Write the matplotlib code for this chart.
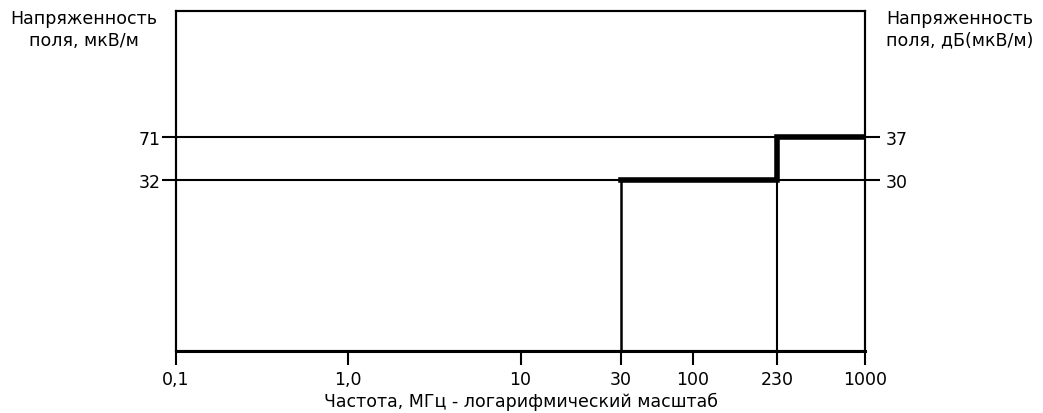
import matplotlib
matplotlib.use("Agg")
import matplotlib.pyplot as plt
import numpy as np

plt.rcParams['font.family'] = ['DejaVu Sans']

# частоты (МГц) и подписи оси X
freq_ticks = [0.1, 1, 10, 30, 100, 230, 1000]
freq_labels = ['0,1', '1,0', '10', '30', '100', '230', '1000']

# уровни напряженности поля
level_uv = [71, 32]        # мкВ/м
level_db = ['37', '30']    # дБ(мкВ/м)

# норма (ступенька)
limit_freq = [30, 230, 230, 1000]
limit_uv = [32, 32, 71, 71]

# схематичная логарифмическая шкала: 30 и 230 на рисунке стоят не строго по логарифму
anchor_log = np.log10(freq_ticks)
anchor_pos = np.array([0, 1, 2, 2.584, 3, 3.491, 4])


def fwd(x):
    lx = np.log10(np.clip(np.asarray(x, dtype=float), 1e-9, None))
    p = np.interp(lx, anchor_log, anchor_pos)
    # за пределами опорных точек — обычный логарифм
    p = np.where(lx < anchor_log[0], lx + 1, p)
    p = np.where(lx > anchor_log[-1], lx + 1, p)
    return p


def inv(p):
    p = np.asarray(p, dtype=float)
    lx = np.interp(p, anchor_pos, anchor_log)
    lx = np.where(p < anchor_pos[0], p - 1, lx)
    lx = np.where(p > anchor_pos[-1], p - 1, lx)
    return 10 ** lx


FS = 12.5

fig = plt.figure(figsize=(10.43, 4.14), dpi=100)
ax = fig.add_axes([176 / 1043, (414 - 352) / 414, (865 - 176) / 1043, 340 / 414])

ax.set_xscale('function', functions=(fwd, inv))
ax.set_yscale('log')
ax.set_xlim(0.1, 1000)
ax.set_ylim(1.34, 733)

y0 = ax.get_ylim()[0]
for v in level_uv:
    ax.axhline(v, color='black', lw=1.5)
ax.plot([30, 30], [y0, limit_uv[0]], color='black', lw=1.8)
ax.plot([230, 230], [y0, limit_uv[1]], color='black', lw=1.5)
ax.plot(limit_freq, limit_uv, color='black', lw=4, solid_joinstyle='miter')

ax.set_xticks(freq_ticks, freq_labels)
ax.xaxis.set_minor_locator(matplotlib.ticker.NullLocator())
ax.set_yticks(level_uv, [str(v) for v in level_uv])
ax.yaxis.set_minor_locator(matplotlib.ticker.NullLocator())
ax.tick_params(axis='both', direction='out', length=10, width=1.5,
               labelsize=FS, pad=1)
ax.tick_params(axis='x', pad=4)

ax2 = ax.twinx()
ax2.set_yscale('log')
ax2.set_ylim(ax.get_ylim())
ax2.set_yticks(level_uv, level_db)
ax2.yaxis.set_minor_locator(matplotlib.ticker.NullLocator())
ax2.tick_params(axis='y', direction='out', length=11, width=1.5,
                labelsize=FS, pad=4)

for a in (ax, ax2):
    for s in a.spines.values():
        s.set_linewidth(1.5)
ax.spines['bottom'].set_linewidth(2.2)

ax.set_xlabel('Частота, МГц - логарифмический масштаб', fontsize=FS, labelpad=2.5)

fig.text(84 / 1043, 1 - 10 / 414, 'Напряженность\nполя, мкВ/м', fontsize=FS,
         ha='center', va='top', linespacing=1.25)
fig.text(960 / 1043, 1 - 10 / 414, 'Напряженность\nполя, дБ(мкВ/м)', fontsize=FS,
         ha='center', va='top', linespacing=1.25)

fig.savefig('out.png', dpi=100)
